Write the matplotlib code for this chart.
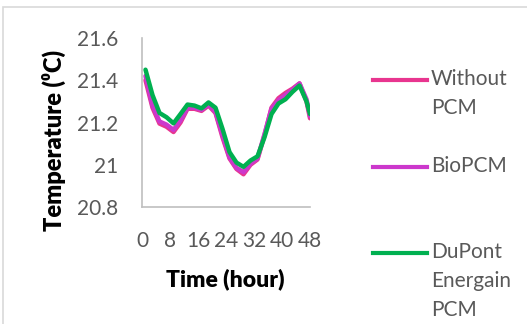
import matplotlib
matplotlib.use('Agg')
import matplotlib.pyplot as plt
from matplotlib.lines import Line2D
from matplotlib.patches import Rectangle

plt.rcParams['font.family'] = ['Lato', 'DejaVu Sans']

# data
hours = [1, 3, 5, 7, 9, 11, 13, 15, 17, 19, 21, 23, 25, 27, 29, 31, 33, 35, 37, 39, 41, 43, 45, 47, 48]
without_pcm = [21.40, 21.27, 21.195, 21.18, 21.155, 21.20, 21.265, 21.265, 21.255, 21.28, 21.245, 21.13,
               21.03, 20.98, 20.955, 21.00, 21.025, 21.14, 21.27, 21.315, 21.34, 21.36, 21.385, 21.30, 21.22]
bio_pcm = [21.42, 21.28, 21.205, 21.19, 21.165, 21.21, 21.27, 21.27, 21.26, 21.285, 21.25, 21.14,
           21.035, 20.985, 20.965, 21.005, 21.03, 21.145, 21.265, 21.305, 21.33, 21.355, 21.385, 21.31, 21.23]
dupont_pcm = [21.45, 21.33, 21.245, 21.225, 21.196, 21.24, 21.285, 21.28, 21.267, 21.295, 21.27, 21.17,
              21.06, 21.01, 20.99, 21.02, 21.04, 21.13, 21.24, 21.29, 21.31, 21.345, 21.375, 21.30, 21.24]
series_names = ['Without\nPCM', 'BioPCM', 'DuPont\nEnergain\nPCM']
colors = ['#E8358F', '#CC38CC', '#00B050']
x_ticks = [0, 8, 16, 24, 32, 40, 48]
y_ticks = [20.8, 21.0, 21.2, 21.4, 21.6]
y_tick_labels = ['20.8', '21', '21.2', '21.4', '21.6']

W, H = 527, 324
fig = plt.figure(figsize=(W / 100, H / 100), dpi=100)


def fx(px):
    return px / W


def fy(py):
    return 1 - py / H


# chart area border (only top/left visible in the crop)
fig.add_artist(Rectangle((fx(3), fy(400)), 1.2, fy(7) - fy(400), transform=fig.transFigure,
                         fill=False, edgecolor='#D9D9D9', linewidth=1.2))

ax = fig.add_axes([fx(142), fy(207), fx(310) - fx(142), fy(38) - fy(207)])
for vals, c in zip([without_pcm, bio_pcm, dupont_pcm], colors):
    ax.plot(hours, vals, color=c, linewidth=3.2, solid_joinstyle='round', solid_capstyle='round')

ax.set_xlim(0, 48)
ax.set_ylim(20.8, 21.6)
ax.set_xticks(x_ticks)
ax.set_yticks(y_ticks)
ax.set_yticklabels(y_tick_labels)
ax.tick_params(length=0, labelsize=15, colors='#595959')
ax.tick_params(axis='x', pad=17)
ax.tick_params(axis='y', pad=17)
for s in ['top', 'right']:
    ax.spines[s].set_visible(False)
for s in ['left', 'bottom']:
    ax.spines[s].set_color('#BFBFBF')
    ax.spines[s].set_linewidth(1.2)

fig.text(fx(225), fy(279), 'Time (hour)', ha='center', va='center', fontsize=16.5, fontweight='heavy')
fig.text(fx(54), fy(141), 'Temperature (⁰C)', ha='center', va='center', rotation=90,
         fontsize=17, fontweight='heavy')

# legend, handle lined up with the first text line
leg_y = [80, 167, 253]
for name, c, y in zip(series_names, colors, leg_y):
    fig.add_artist(Line2D([fx(373), fx(427)], [fy(y), fy(y)], color=c, linewidth=3,
                          transform=fig.transFigure))
    fig.text(fx(431), fy(y - 11), name, ha='left', va='top', fontsize=15, color='#595959',
             linespacing=1.55)

fig.savefig('out.png', dpi=100)
